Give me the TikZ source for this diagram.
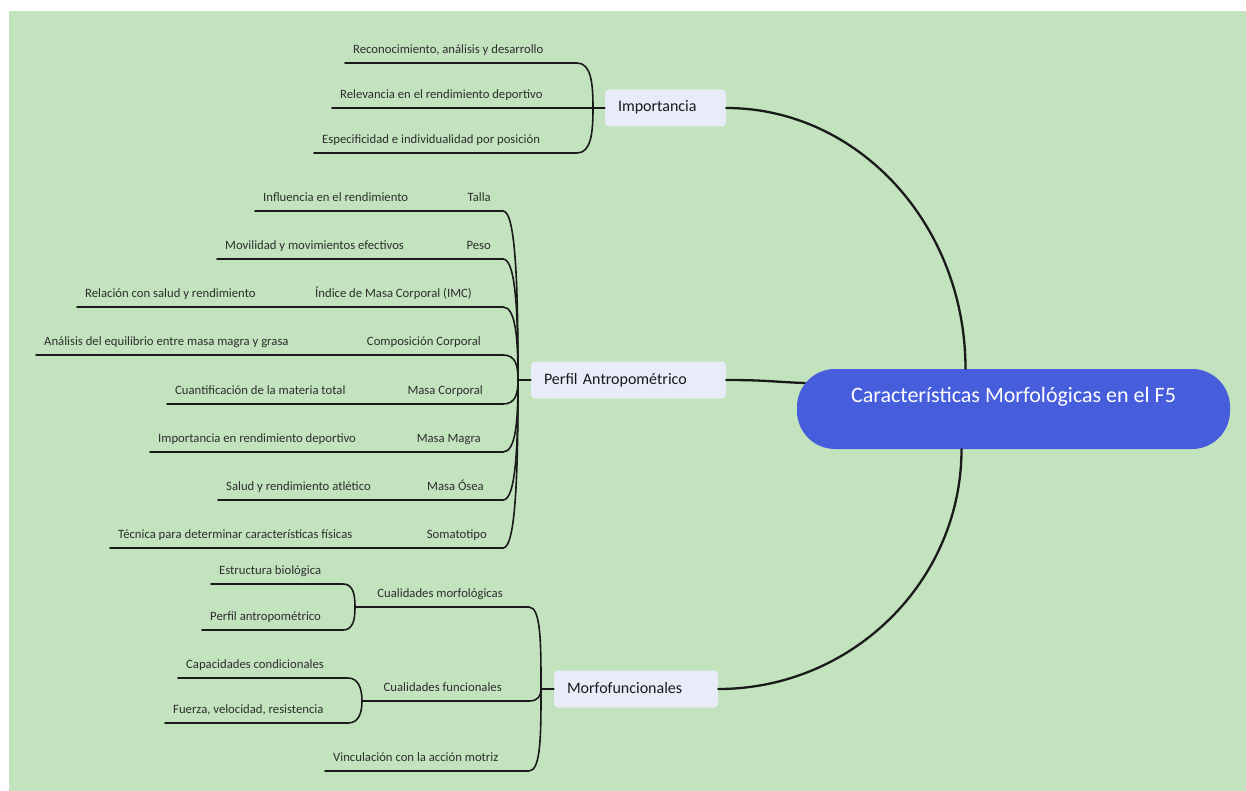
\documentclass[tikz,border=0pt]{standalone}
\usepackage{fontspec}
\setmainfont{Carlito}
\usepackage{xcolor}
\definecolor{bggreen}{HTML}{C2E3BE}
\definecolor{rootblue}{HTML}{465DDC}
\definecolor{topicfill}{HTML}{E8ECF8}
\definecolor{inkgray}{HTML}{2E2E2E}
\definecolor{linedark}{HTML}{1A1A1A}

\begin{document}
\begin{tikzpicture}[x=1pt,y=-1pt,
  root/.style={fill=rootblue,text=white,rounded corners=38pt,minimum width=433pt,
    text height=25pt,text depth=39pt,inner ysep=8pt,font=\fontsize{22}{26}\selectfont},
  topic/.style={fill=topicfill,rounded corners=4pt,align=left,inner xsep=13pt,inner ysep=11.5pt,
    text height=11pt,text depth=3pt,text=black!90,font=\fontsize{16}{19}\selectfont},
  leaf/.style={anchor=south west,inner xsep=8pt,inner ysep=0pt,text height=9pt,text depth=9.5pt,
    text=inkgray,font=\fontsize{12.7}{15}\selectfont},
  subleaf/.style={leaf,anchor=south east,inner xsep=0pt},
  main/.style={draw=linedark,line width=2.3pt,line cap=round},
  branch/.style={draw=linedark,line width=1.6pt,line cap=round}]
  \useasboundingbox[fill=white] (0,0) rectangle (1246,791);
  \fill[bggreen] (9,11) rectangle (1246,791);

  \node[root] (root) at (1013.5,409) {Características Morfológicas en el F5};
  \node[topic,text width=95pt] (imp) at (665.5,108) {Importancia};
  \node[topic,text width=169pt] (per) at (628.5,380) {Perfil Antropométrico};
  \node[topic,text width=138pt] (mor) at (636,689) {Morfofuncionales};

  % junctions and bends
  \coordinate (jImp) at (593,108);
  \coordinate (jPer) at (518,380);
  \coordinate (jMor) at (541,689);
  \coordinate (jMor1) at (355,607);
  \coordinate (jMor2) at (362,701);
  \coordinate (bImp) at (577,108);
  \coordinate (bPer) at (503,380);
  \coordinate (bMor) at (529,689);
  \coordinate (bMor1) at (343,607);
  \coordinate (bMor2) at (348,701);

  \node[leaf] (imp1) at (345,63) {Reconocimiento, análisis y desarrollo};
  \node[leaf] (imp2) at (332,108) {Relevancia en el rendimiento deportivo};
  \node[leaf] (imp3) at (314,153) {Especificidad e individualidad por posición};

  \node[subleaf] (talla) at (491,211) {Talla};
  \node[leaf] (talla1) at (255,211) {Influencia en el rendimiento};
  \node[subleaf] (peso) at (491,259) {Peso};
  \node[leaf] (peso1) at (217,259) {Movilidad y movimientos efectivos};
  \node[subleaf] (imc) at (472,307) {Índice de Masa Corporal (IMC)};
  \node[leaf] (imc1) at (77,307) {Relación con salud y rendimiento};
  \node[subleaf] (comp) at (481,355) {Composición Corporal};
  \node[leaf] (comp1) at (36,355) {Análisis del equilibrio entre masa magra y grasa};
  \node[subleaf] (masa) at (483,404) {Masa Corporal};
  \node[leaf] (masa1) at (167,404) {Cuantificación de la materia total};
  \node[subleaf] (magra) at (481,452) {Masa Magra};
  \node[leaf] (magra1) at (150,452) {Importancia en rendimiento deportivo};
  \node[subleaf] (osea) at (484,500) {Masa Ósea};
  \node[leaf] (osea1) at (218,500) {Salud y rendimiento atlético};
  \node[subleaf] (soma) at (487,548) {Somatotipo};
  \node[leaf] (soma1) at (110,548) {Técnica para determinar características físicas};

  \node[subleaf] (mf1) at (503,607) {Cualidades morfológicas};
  \node[leaf] (mc1) at (211,584) {Estructura biológica};
  \node[leaf] (mc2) at (202,630) {Perfil antropométrico};
  \node[subleaf] (mf2) at (502,701) {Cualidades funcionales};
  \node[leaf] (mc3) at (178,678) {Capacidades condicionales};
  \node[leaf] (mc4) at (165,723) {Fuerza, velocidad, resistencia};
  \node[leaf] (mf3) at (325,771) {Vinculación con la acción motriz};

  % main branches
  \draw[main] (imp.east) .. controls +(132,0) and +(0,-144) .. ([xshift=-48pt]root.north);
  \draw[main] (per.east) .. controls +(40,0) and +(-30,-1) .. ([shift={(8pt,26pt)}]root.west);
  \draw[main] (mor.east) .. controls +(134,0) and +(0,132) .. ([xshift=-52pt]root.south);

  % Importancia
  \draw[branch] (jImp) -- (imp.west);
  \draw[branch] (imp1.south west) -- (imp1.south west -| bImp) .. controls +(14,0) and +(0,-25) .. (jImp);
  \draw[branch] (imp2.south west) -- (jImp);
  \draw[branch] (imp3.south west) -- (imp3.south west -| bImp) .. controls +(14,0) and +(0,25) .. (jImp);

  % Perfil Antropometrico
  \draw[branch] (jPer) -- (per.west);
  \draw[branch] (talla1.south west) -- (talla.south east -| bPer) .. controls +(13,0) and +(0,-90) .. (jPer);
  \draw[branch] (peso1.south west) -- (peso.south east -| bPer) .. controls +(13,0) and +(0,-65) .. (jPer);
  \draw[branch] (imc1.south west) -- (imc.south east -| bPer) .. controls +(13,0) and +(0,-40) .. (jPer);
  \draw[branch] (comp1.south west) -- (comp.south east -| bPer) .. controls +(13,0) and +(0,-14) .. (jPer);
  \draw[branch] (masa1.south west) -- (masa.south east -| bPer) .. controls +(13,0) and +(0,13) .. (jPer);
  \draw[branch] (magra1.south west) -- (magra.south east -| bPer) .. controls +(13,0) and +(0,40) .. (jPer);
  \draw[branch] (osea1.south west) -- (osea.south east -| bPer) .. controls +(13,0) and +(0,65) .. (jPer);
  \draw[branch] (soma1.south west) -- (soma.south east -| bPer) .. controls +(13,0) and +(0,90) .. (jPer);

  % Morfofuncionales
  \draw[branch] (jMor) -- (mor.west);
  \draw[branch] (jMor1) -- (mf1.south east -| bMor) .. controls +(12,0) and +(0,-45) .. (jMor);
  \draw[branch] (jMor2) -- (mf2.south east -| bMor) .. controls +(9,0) and +(0,7) .. (jMor);
  \draw[branch] (mf3.south west) -- (mf3.south west -| bMor) .. controls +(12,0) and +(0,45) .. (jMor);
  \draw[branch] (mc1.south west) -- (mc1.south west -| bMor1) .. controls +(10,0) and +(0,-13) .. (jMor1);
  \draw[branch] (mc2.south west) -- (mc2.south west -| bMor1) .. controls +(10,0) and +(0,13) .. (jMor1);
  \draw[branch] (mc3.south west) -- (mc3.south west -| bMor2) .. controls +(10,0) and +(0,-13) .. (jMor2);
  \draw[branch] (mc4.south west) -- (mc4.south west -| bMor2) .. controls +(10,0) and +(0,13) .. (jMor2);
\end{tikzpicture}
\end{document}
